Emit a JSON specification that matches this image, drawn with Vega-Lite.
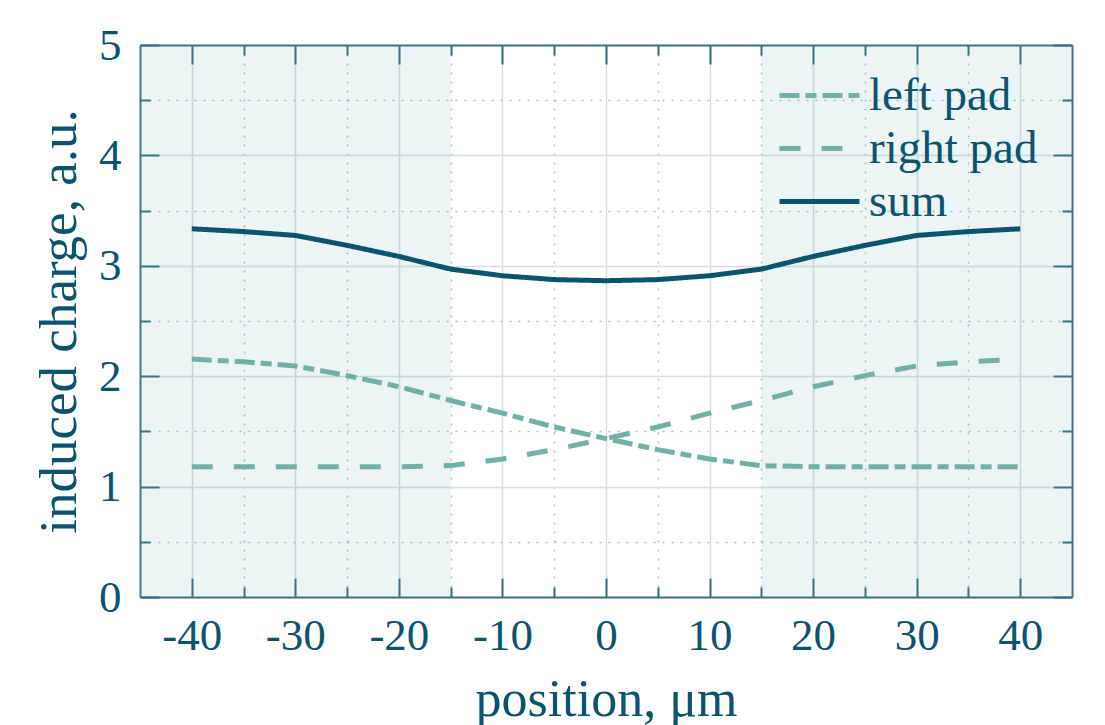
{
  "$schema": "https://vega.github.io/schema/vega-lite/v6.json",
  "width": 932,
  "height": 552,
  "autosize": "none",
  "padding": {"left": 140, "top": 45, "right": 33, "bottom": 128},
  "background": "white",
  "config": {
    "view": {"stroke": null},
    "font": "Liberation Serif",
    "axis": {
      "labelFont": "Liberation Serif",
      "titleFont": "Liberation Serif",
      "labelColor": "#0b5470",
      "titleColor": "#0b5470",
      "titleFontWeight": "normal",
      "labelFlush": false,
      "labelOverlap": false,
      "labelExpr": "'' + datum.value",
      "domainColor": "#3e7189",
      "domainWidth": 2,
      "tickColor": "#2f6a85",
      "tickWidth": 2,
      "gridColor": "#d3dfe4",
      "gridWidth": 1.5
    }
  },
  "datasets": {
    "pads": [
      {"start": -45, "end": -15},
      {"start": 15, "end": 45}
    ],
    "curves": [
      {"position": -40, "series": "left pad", "charge": 2.155},
      {"position": -35, "series": "left pad", "charge": 2.13},
      {"position": -30, "series": "left pad", "charge": 2.093},
      {"position": -25, "series": "left pad", "charge": 2.005},
      {"position": -20, "series": "left pad", "charge": 1.905},
      {"position": -15, "series": "left pad", "charge": 1.78},
      {"position": -10, "series": "left pad", "charge": 1.665},
      {"position": -5, "series": "left pad", "charge": 1.54},
      {"position": 0, "series": "left pad", "charge": 1.435},
      {"position": 5, "series": "left pad", "charge": 1.335},
      {"position": 10, "series": "left pad", "charge": 1.25},
      {"position": 15, "series": "left pad", "charge": 1.19},
      {"position": 20, "series": "left pad", "charge": 1.18},
      {"position": 25, "series": "left pad", "charge": 1.18},
      {"position": 30, "series": "left pad", "charge": 1.18},
      {"position": 35, "series": "left pad", "charge": 1.18},
      {"position": 40, "series": "left pad", "charge": 1.18},
      {"position": -40, "series": "right pad", "charge": 1.18},
      {"position": -35, "series": "right pad", "charge": 1.18},
      {"position": -30, "series": "right pad", "charge": 1.18},
      {"position": -25, "series": "right pad", "charge": 1.18},
      {"position": -20, "series": "right pad", "charge": 1.18},
      {"position": -15, "series": "right pad", "charge": 1.19},
      {"position": -10, "series": "right pad", "charge": 1.25},
      {"position": -5, "series": "right pad", "charge": 1.335},
      {"position": 0, "series": "right pad", "charge": 1.435},
      {"position": 5, "series": "right pad", "charge": 1.54},
      {"position": 10, "series": "right pad", "charge": 1.665},
      {"position": 15, "series": "right pad", "charge": 1.78},
      {"position": 20, "series": "right pad", "charge": 1.905},
      {"position": 25, "series": "right pad", "charge": 2.005},
      {"position": 30, "series": "right pad", "charge": 2.093},
      {"position": 35, "series": "right pad", "charge": 2.13},
      {"position": 40, "series": "right pad", "charge": 2.155},
      {"position": -40, "series": "sum", "charge": 3.335},
      {"position": -35, "series": "sum", "charge": 3.31},
      {"position": -30, "series": "sum", "charge": 3.275},
      {"position": -25, "series": "sum", "charge": 3.185},
      {"position": -20, "series": "sum", "charge": 3.085},
      {"position": -15, "series": "sum", "charge": 2.97},
      {"position": -10, "series": "sum", "charge": 2.91},
      {"position": -5, "series": "sum", "charge": 2.875},
      {"position": 0, "series": "sum", "charge": 2.865},
      {"position": 5, "series": "sum", "charge": 2.875},
      {"position": 10, "series": "sum", "charge": 2.91},
      {"position": 15, "series": "sum", "charge": 2.97},
      {"position": 20, "series": "sum", "charge": 3.085},
      {"position": 25, "series": "sum", "charge": 3.185},
      {"position": 30, "series": "sum", "charge": 3.275},
      {"position": 35, "series": "sum", "charge": 3.31},
      {"position": 40, "series": "sum", "charge": 3.335}
    ]
  },
  "layer": [
    {
      "data": {"name": "pads"},
      "mark": {"type": "rect", "fill": "#6fb1a8", "opacity": 0.13},
      "encoding": {
        "x": {
          "field": "start",
          "type": "quantitative",
          "scale": {"domain": [-45, 45], "nice": false, "zero": false},
          "axis": {
            "orient": "bottom",
            "values": [-40, -30, -20, -10, 0, 10, 20, 30, 40],
            "grid": true,
            "domain": true,
            "ticks": true,
            "tickSize": -19,
            "labelPadding": 35,
            "labelFontSize": 45,
            "title": "position, μm",
            "titleFontSize": 52,
            "titlePadding": 16
          }
        },
        "x2": {"field": "end"}
      }
    },
    {
      "data": {"name": "curves"},
      "mark": {"type": "line", "strokeWidth": 5, "strokeCap": "butt"},
      "encoding": {
        "x": {
          "field": "position",
          "type": "quantitative",
          "axis": {
            "orient": "top",
            "values": [-40, -30, -20, -10, 0, 10, 20, 30, 40],
            "grid": false,
            "domain": true,
            "ticks": true,
            "tickSize": -19,
            "labels": false,
            "title": null
          }
        },
        "y": {
          "field": "charge",
          "type": "quantitative",
          "scale": {"domain": [0, 5], "nice": false},
          "axis": {
            "orient": "left",
            "values": [0, 1, 2, 3, 4, 5],
            "grid": true,
            "domain": true,
            "ticks": true,
            "tickSize": -19,
            "labelPadding": 38,
            "labelFontSize": 45,
            "title": "induced charge, a.u.",
            "titleFontSize": 53,
            "titlePadding": 12
          }
        },
        "color": {
          "field": "series",
          "type": "nominal",
          "scale": {"domain": ["left pad", "right pad", "sum"], "range": ["#6fb1a8", "#6fb1a8", "#0b5470"]},
          "legend": {
            "orient": "none",
            "legendX": 656,
            "legendY": 27,
            "title": null,
            "symbolType": "M-4,0H4",
            "symbolSize": 400,
            "symbolStrokeWidth": 5,
            "labelFontSize": 47,
            "labelLimit": 400,
            "labelFont": "Liberation Serif",
            "labelColor": "#0b5470",
            "labelOffset": 26,
            "rowPadding": 5,
            "padding": 0
          }
        },
        "strokeDash": {
          "field": "series",
          "type": "nominal",
          "scale": {"domain": ["left pad", "right pad", "sum"], "range": [[20, 6, 11, 6], [21, 21], [1, 0]]},
          "legend": {
            "orient": "none",
            "legendX": 656,
            "legendY": 27,
            "title": null,
            "symbolType": "M-4,0H4",
            "symbolSize": 400,
            "symbolStrokeWidth": 5,
            "labelFontSize": 47,
            "labelLimit": 400,
            "labelFont": "Liberation Serif",
            "labelColor": "#0b5470",
            "labelOffset": 26,
            "rowPadding": 5,
            "padding": 0
          }
        }
      }
    },
    {
      "data": {"name": "curves"},
      "mark": {"type": "point", "opacity": 0},
      "encoding": {
        "x": {
          "field": "position",
          "type": "quantitative",
          "axis": {
            "orient": "bottom",
            "values": [-35, -25, -15, -5, 5, 15, 25, 35],
            "grid": true,
            "gridDash": [2, 7],
            "gridColor": "#aebfc7",
            "domain": false,
            "ticks": true,
            "tickSize": -10,
            "labels": false,
            "title": null
          }
        },
        "y": {
          "field": "charge",
          "type": "quantitative",
          "axis": {
            "orient": "left",
            "values": [0.5, 1.5, 2.5, 3.5, 4.5],
            "grid": true,
            "gridDash": [2, 7],
            "gridColor": "#aebfc7",
            "domain": false,
            "ticks": true,
            "tickSize": -10,
            "labels": false,
            "title": null
          }
        }
      }
    },
    {
      "data": {"name": "curves"},
      "mark": {"type": "point", "opacity": 0},
      "encoding": {
        "x": {
          "field": "position",
          "type": "quantitative",
          "axis": {
            "orient": "top",
            "values": [-35, -25, -15, -5, 5, 15, 25, 35],
            "grid": false,
            "domain": false,
            "ticks": true,
            "tickSize": -10,
            "labels": false,
            "title": null
          }
        },
        "y": {
          "field": "charge",
          "type": "quantitative",
          "axis": {
            "orient": "right",
            "values": [0, 1, 2, 3, 4, 5],
            "grid": false,
            "domain": true,
            "ticks": true,
            "tickSize": -19,
            "labels": false,
            "title": null
          }
        }
      }
    },
    {
      "data": {"name": "curves"},
      "mark": {"type": "point", "opacity": 0},
      "encoding": {
        "x": {"field": "position", "type": "quantitative", "axis": null},
        "y": {
          "field": "charge",
          "type": "quantitative",
          "axis": {
            "orient": "right",
            "values": [0.5, 1.5, 2.5, 3.5, 4.5],
            "grid": false,
            "domain": false,
            "ticks": true,
            "tickSize": -10,
            "labels": false,
            "title": null
          }
        }
      }
    }
  ],
  "resolve": {"axis": {"x": "independent", "y": "independent"}}
}
